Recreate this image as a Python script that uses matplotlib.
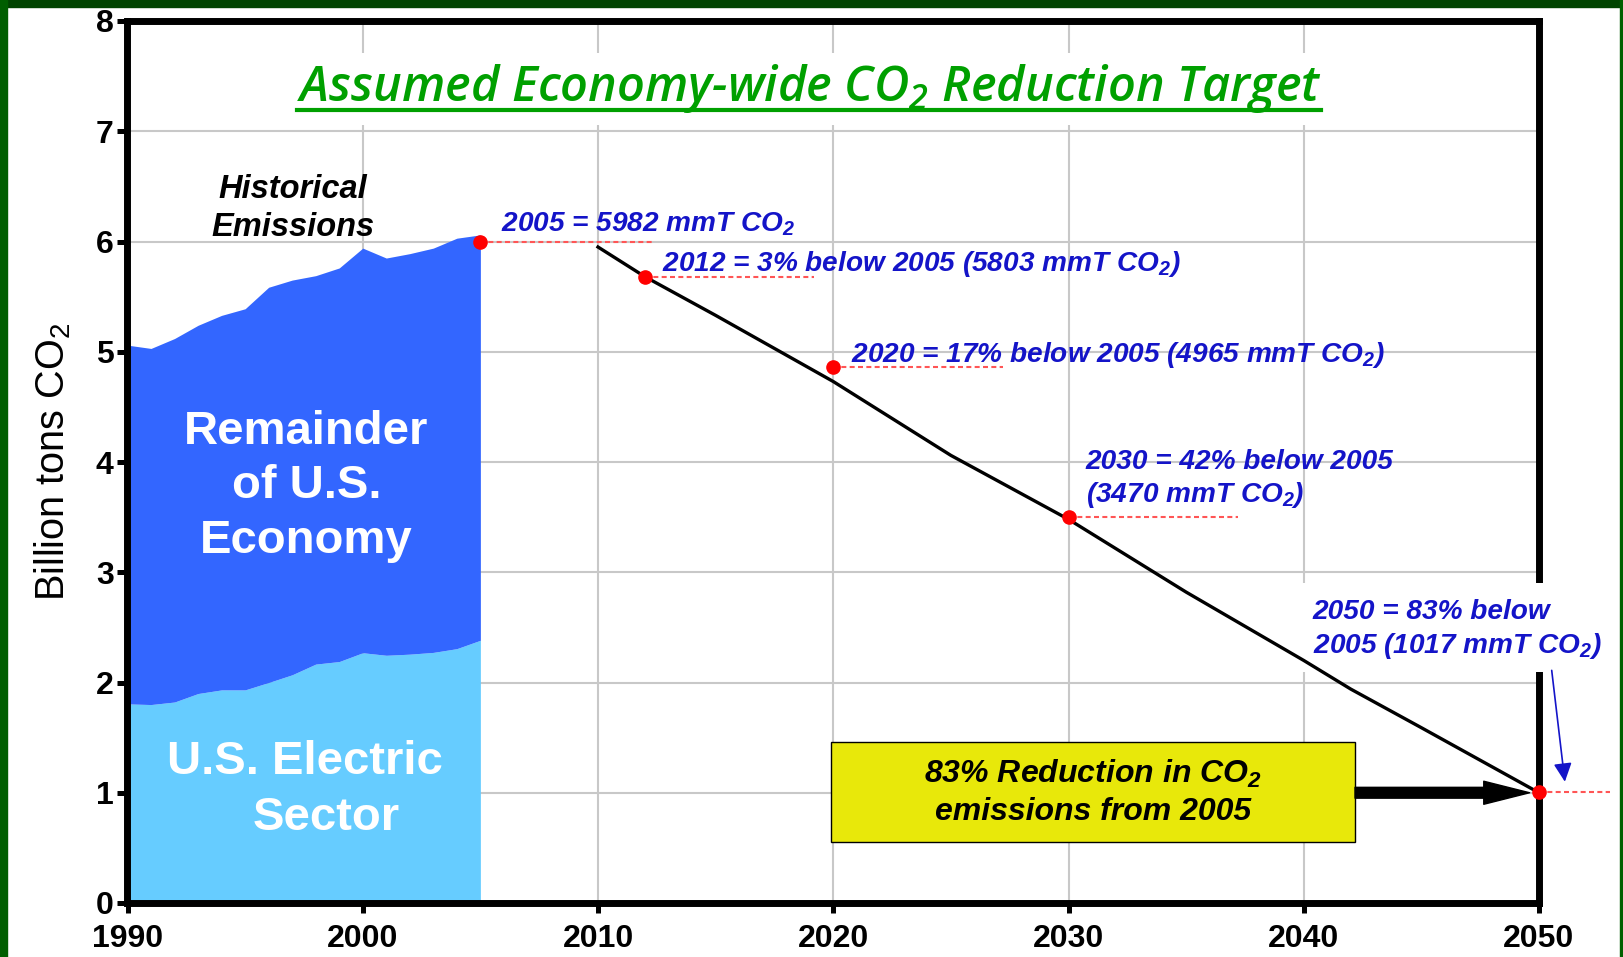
import matplotlib
matplotlib.use('Agg')
import matplotlib.pyplot as plt
from matplotlib.patches import Rectangle
from matplotlib.lines import Line2D

plt.rcParams['mathtext.default'] = 'regular'
plt.rcParams['font.family'] = ['Liberation Sans', 'DejaVu Sans']

# ---------------- data ----------------
hist_years = list(range(1990, 2006))
hist_total = [5.06, 5.03, 5.12, 5.24, 5.33, 5.39, 5.585, 5.65, 5.69, 5.76,
              5.94, 5.85, 5.89, 5.94, 6.03, 6.06]
hist_electric = [1.806, 1.80, 1.823, 1.90, 1.933, 1.933, 2.00, 2.07, 2.167, 2.19,
                 2.27, 2.247, 2.257, 2.273, 2.307, 2.383]

target_years = [2010, 2012, 2015, 2020, 2025, 2030, 2035, 2040, 2042, 2045, 2050]
target_vals = [5.95, 5.68, 5.33, 4.73, 4.06, 3.48, 2.82, 2.20, 1.94, 1.59, 1.00]

milestone_years = [2005, 2012, 2020, 2030, 2050]
milestone_vals = [6.00, 5.675, 4.865, 3.50, 1.004]
milestone_dash_end = [2012.3, 2019.2, 2027.2, 2037.2, 2053.0]

milestone_labels = [
    ['2005 = 5982 mmT CO$_2$'],
    ['2012 = 3% below 2005 (5803 mmT CO$_2$)'],
    ['2020 = 17% below 2005 (4965 mmT CO$_2$)'],
    ['2030 = 42% below 2005', '(3470 mmT CO$_2$)'],
    ['2050 = 83% below', '2005 (1017 mmT CO$_2$)'],
]
# label anchor (left, first-line baseline) in data units
label_x = [2005.86, 2012.72, 2020.75, 2030.74, 2040.39]
label_y = [6.09, 5.735, 4.91, 3.94, 2.576]
label_line_step = 0.306

x_ticks = [1990, 2000, 2010, 2020, 2030, 2040, 2050]
y_ticks = [0, 1, 2, 3, 4, 5, 6, 7, 8]

title_text = 'Assumed Economy-wide CO$_2$ Reduction Target'
ylabel_text = 'Billion tons CO$_2$'
box_lines = ['83% Reduction in CO$_2$', 'emissions from 2005']

# ---------------- figure ----------------
W, H = 1623, 957
fig = plt.figure(figsize=(W / 100, H / 100), dpi=100, facecolor='white')

# dark green frame
fig.patches.append(Rectangle((0, 1 - 7 / H), 1, 7 / H, transform=fig.transFigure,
                             color='#004400', zorder=0))
fig.patches.append(Rectangle((0, 0), 7 / W, 1, transform=fig.transFigure,
                             color='#005e00', zorder=0))
fig.patches.append(Rectangle((1 - 3 / W, 0), 3 / W, 1, transform=fig.transFigure,
                             color='#006000', zorder=0))

ax = fig.add_axes([127.5 / W, 1 - 903 / H, (1539 - 127.5) / W, (903 - 21) / H])
ax.set_xlim(1990, 2050)
ax.set_ylim(0, 8)

for s in ax.spines.values():
    s.set_linewidth(5)
    s.set_color('black')

ax.set_axisbelow(True)
ax.grid(True, color='#C8C8C8', lw=1.5)

ax.set_xticks(x_ticks)
ax.set_xticklabels([str(v) for v in x_ticks], fontweight='bold', fontsize=23)
ax.set_yticks(y_ticks)
ax.set_yticklabels([str(v) for v in y_ticks], fontweight='bold', fontsize=23)
ax.tick_params(axis='both', direction='out', length=7, width=3.6, color='black')
ax.tick_params(axis='x', pad=8)
ax.tick_params(axis='y', pad=3)

ax.set_ylabel(ylabel_text, fontsize=28.5)
ax.yaxis.set_label_coords(-0.0385, 0.5)

# historical stacked areas
ax.fill_between(hist_years, 0, hist_electric, color='#66CCFF', lw=0, zorder=1)
ax.fill_between(hist_years, hist_electric, hist_total, color='#3366FF', lw=0, zorder=1)

ax.text(1997.6, 3.78, 'Remainder\nof U.S.\nEconomy', ha='center', va='center',
        fontsize=34, fontweight='bold', color='white', linespacing=1.31, zorder=3)
ax.text(1997.55, 1.28, 'U.S. Electric', ha='center', va='center',
        fontsize=34, fontweight='bold', color='white', zorder=3)
ax.text(1998.44, 0.77, 'Sector', ha='center', va='center',
        fontsize=34, fontweight='bold', color='white', zorder=3)
ax.text(1997.03, 6.47, 'Historical', ha='center', va='center', fontsize=23.5,
        fontweight='bold', style='italic', color='black', zorder=3)
ax.text(1997.03, 6.13, 'Emissions', ha='center', va='center', fontsize=23.5,
        fontweight='bold', style='italic', color='black', zorder=3)

# target line
ax.plot(target_years, target_vals, color='black', lw=2.4, zorder=5)

# dashed leaders and milestone dots
for yr, v, xe in zip(milestone_years, milestone_vals, milestone_dash_end):
    ax.plot([yr, xe], [v, v], color='#FF5555', lw=1.5, dashes=(2.4, 1.6),
            zorder=4, clip_on=False)
ax.plot(milestone_years, milestone_vals, 'o', color='#FF0000', ms=9.5,
        mec='#FF0000', zorder=6, clip_on=False)

# white mask behind 2050 label (breaks grid & right spine)
ax.add_patch(Rectangle((2039.8, 2.095), 13.5, 0.805, facecolor='white',
                       edgecolor='none', zorder=2.7, clip_on=False))

blue = '#1414C8'
for lines, lx, ly in zip(milestone_labels, label_x, label_y):
    for i, ln in enumerate(lines):
        ax.text(lx, ly - i * label_line_step, ln, ha='left', va='baseline',
                fontsize=20.2, fontweight='bold', style='italic', color=blue,
                zorder=7, clip_on=False)

# blue pointer arrow to 2050
ax.annotate('', xy=(2051.1, 1.10), xytext=(2050.54, 2.11),
            arrowprops=dict(arrowstyle='-|>,head_length=0.45,head_width=0.22',
                            color=blue, lw=1.2, mutation_scale=25,
                            shrinkA=0, shrinkB=0),
            annotation_clip=False, zorder=7)

# yellow box
ax.add_patch(Rectangle((2019.9, 0.556), 22.28, 0.907, facecolor='#E8E80A',
                       edgecolor='black', lw=1.0, zorder=6))
ax.text(2031.04, 1.088, box_lines[0], ha='center', va='baseline', fontsize=23,
        fontweight='bold', style='italic', color='black', zorder=7)
ax.text(2031.04, 0.753, box_lines[1], ha='center', va='baseline', fontsize=23,
        fontweight='bold', style='italic', color='black', zorder=7)

# thick black arrow
ax.annotate('', xy=(2049.6, 1.0), xytext=(2042.18, 1.0),
            arrowprops=dict(arrowstyle='simple,head_length=3.3,head_width=1.66,tail_width=0.78',
                            mutation_scale=10, color='black', shrinkA=0, shrinkB=0),
            zorder=6)

# title
t = ax.text(2018.97, 7.27, title_text, ha='center', va='baseline', fontsize=32,
            family=['Open Sans', 'DejaVu Sans'], style='italic', fontweight='semibold',
            color='#00A000', zorder=7,
            bbox=dict(facecolor='white', edgecolor='none', pad=6))
fig.canvas.draw()
r = fig.canvas.get_renderer()
bb = t.get_window_extent(r)
t.set_fontsize(t.get_fontsize() * 1027.0 / bb.width)
fig.canvas.draw()
bb = t.get_window_extent(r)
uy = 1 - 110.0 / H
fig.add_artist(Line2D([bb.x0 / W, bb.x1 / W], [uy, uy], transform=fig.transFigure,
                      color='#00A000', lw=3.0, zorder=10))

fig.savefig('out.png', dpi=100, facecolor='white')
